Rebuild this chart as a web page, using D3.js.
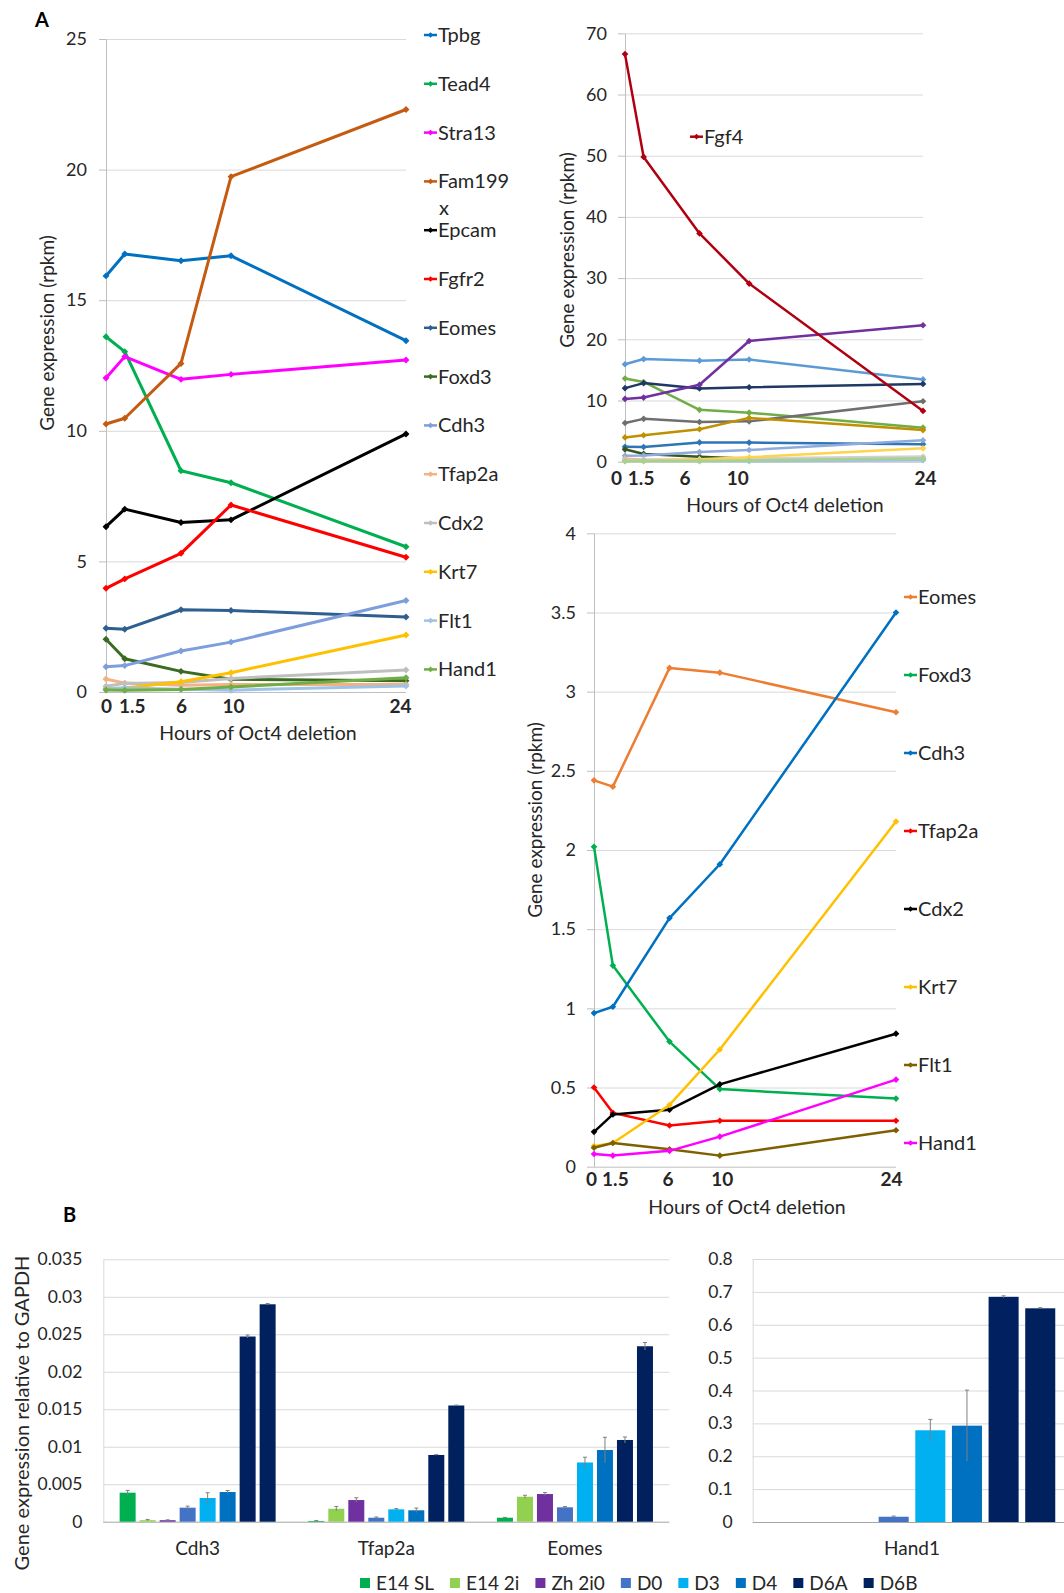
<!DOCTYPE html>
<html>
<head>
<meta charset="utf-8">
<script src="https://cdn.jsdelivr.net/npm/d3@7/dist/d3.min.js"></script>
<style>
  body { margin: 0; background: #ffffff; }
  svg { display: block; font-family: Lato, "Open Sans", sans-serif; }
</style>
</head>
<body>
<div id="figure"></div>
<script>
var svg_width = 1064;
var svg_height = 1593;

// Hours of Oct4 deletion
var hours = [0, 1.5, 6, 10, 24];
var hour_labels = ["0", "1.5", "6", "10", "24"];

// RNA-seq expression (rpkm) at each hour
var tpbg = [15.93, 16.77, 16.51, 16.70, 13.45];
var tead4 = [13.60, 13.03, 8.47, 8.01, 5.56];
var stra13 = [12.02, 12.84, 11.97, 12.16, 12.71];
var fam199x = [10.26, 10.48, 12.58, 19.73, 22.30];
var epcam = [6.33, 7.00, 6.49, 6.59, 9.88];
var fgfr2 = [3.97, 4.33, 5.31, 7.16, 5.16];
var eomes = [2.44, 2.40, 3.15, 3.12, 2.87];
var foxd3 = [2.02, 1.27, 0.79, 0.49, 0.43];
var cdh3 = [0.97, 1.01, 1.57, 1.91, 3.50];
var tfap2a = [0.50, 0.34, 0.26, 0.29, 0.29];
var cdx2 = [0.22, 0.33, 0.36, 0.52, 0.84];
var krt7 = [0.13, 0.15, 0.39, 0.74, 2.18];
var flt1 = [0.12, 0.15, 0.11, 0.07, 0.23];
var hand1 = [0.08, 0.07, 0.10, 0.19, 0.55];
var fgf4 = [66.6, 49.8, 37.3, 29.1, 8.3];

// Top left panel
var genes_a = ["Tpbg", "Tead4", "Stra13", "Fam199x", "Epcam", "Fgfr2", "Eomes", "Foxd3",
  "Cdh3", "Tfap2a", "Cdx2", "Krt7", "Flt1", "Hand1"];
var legend_a = ["Tpbg", "Tead4", "Stra13", "Fam199\nx", "Epcam", "Fgfr2", "Eomes", "Foxd3",
  "Cdh3", "Tfap2a", "Cdx2", "Krt7", "Flt1", "Hand1"];
var values_a = [tpbg, tead4, stra13, fam199x, epcam, fgfr2, eomes, foxd3,
  cdh3, tfap2a, cdx2, krt7, flt1, hand1];
var colors_a = ["#0070c0", "#00b050", "#ff00ff", "#c55a11", "#000000", "#ff0000", "#2e5f8f", "#3b6b21",
  "#7d9ddc", "#f4b183", "#bfbfbf", "#ffc000", "#9dc3e6", "#70ad47"];

// Top right panel (same genes plus Fgf4)
var genes_b = ["Tpbg", "Tead4", "Stra13", "Fam199x", "Epcam", "Fgfr2", "Eomes", "Foxd3",
  "Cdh3", "Tfap2a", "Cdx2", "Krt7", "Flt1", "Hand1", "Fgf4"];
var values_b = [tpbg, tead4, stra13, fam199x, epcam, fgfr2, eomes, foxd3,
  cdh3, tfap2a, cdx2, krt7, flt1, hand1, fgf4];
var colors_b = ["#5b9bd5", "#70ad47", "#203864", "#7030a0", "#6f6f6f", "#bf9000", "#2e75b6", "#375623",
  "#8faadc", "#f4b183", "#d0d0d0", "#ffd34d", "#9dc3e6", "#a9d18e", "#b00010"];

// Bottom right panel (low expressed genes)
var genes_c = ["Eomes", "Foxd3", "Cdh3", "Tfap2a", "Cdx2", "Krt7", "Flt1", "Hand1"];
var values_c = [eomes, foxd3, cdh3, tfap2a, cdx2, krt7, flt1, hand1];
var colors_c = ["#ed7d31", "#00b050", "#0070c0", "#ff0000", "#000000", "#ffc000", "#7f6000", "#ff00ff"];

// qPCR, expression relative to GAPDH
var qpcr_genes = ["Cdh3", "Tfap2a", "Eomes", "Hand1"];
var samples = ["E14 SL", "E14 2i", "Zh 2i0", "D0", "D3", "D4", "D6A", "D6B"];
var sample_colors = ["#00b050", "#92d050", "#7030a0", "#4472c4", "#00b0f0", "#0070c0", "#002060", "#00205e"];
var e14_sl = [0.00387, 0.0001, 0.00053, 0];
var e14_2i = [0.0002, 0.00173, 0.00333, 0];
var zh_2i0 = [0.0002, 0.00289, 0.00369, 0];
var d0 = [0.00187, 0.00053, 0.00192, 0.016];
var d3v = [0.00316, 0.00165, 0.0079, 0.279];
var d4 = [0.00396, 0.00152, 0.00956, 0.293];
var d6a = [0.0247, 0.0089, 0.0109, 0.685];
var d6b = [0.0290, 0.0155, 0.0234, 0.650];
var sample_values = [e14_sl, e14_2i, zh_2i0, d0, d3v, d4, d6a, d6b];
// error bars
var e14_sl_err = [0.0003, 0.00005, 0.00005, 0];
var e14_2i_err = [0.0001, 0.0003, 0.0002, 0];
var zh_2i0_err = [0.00005, 0.0003, 0.0002, 0];
var d0_err = [0.0002, 0.0001, 0.0001, 0.002];
var d3_err = [0.0007, 0.0001, 0.0007, 0.033];
var d4_err = [0.0002, 0.0003, 0.0017, 0.108];
var d6a_err = [0.0002, 0.00005, 0.0004, 0.003];
var d6b_err = [0.0001, 0.00005, 0.0005, 0.002];
var sample_errors = [e14_sl_err, e14_2i_err, zh_2i0_err, d0_err, d3_err, d4_err, d6a_err, d6b_err];

var text_color = "#262626";

var svg = d3.select("#figure")
  .append("svg")
  .attr("width", svg_width)
  .attr("height", svg_height);

// Panel letters
svg.append("text").attr("x", 35).attr("y", 27)
  .attr("font-size", 20).attr("font-weight", "bold").attr("fill", "#000")
  .text("A");
svg.append("text").attr("x", 63).attr("y", 1222)
  .attr("font-size", 20).attr("font-weight", "bold").attr("fill", "#000")
  .text("B");

// small marker, a square turned 45 degrees
var marker = d3.symbol().type(d3.symbolSquare);

// Draw one line chart panel
function drawLinePanel(p) {
  var g = svg.append("g");
  var x = d3.scaleLinear().domain([0, 24]).range([p.left, p.right]);
  var y = d3.scaleLinear().domain([0, p.ymax]).range([p.bottom, p.top]);
  var yticks = d3.range(0, Math.round(p.ymax / p.ystep) + 1).map(i => i * p.ystep);

  // Gridlines
  g.append("g")
    .attr("transform", `translate(${p.left},0)`)
    .call(d3.axisLeft(y).tickValues(yticks).tickSize(-(p.right - p.left)).tickSizeOuter(0).tickFormat(""))
    .call(a => a.select(".domain").remove())
    .call(a => a.selectAll(".tick line").attr("stroke", d => d === 0 ? "#bfbfbf" : "#d9d9d9"));

  // Y axis
  g.append("g")
    .attr("transform", `translate(${p.left},0)`)
    .call(d3.axisLeft(y).tickValues(yticks).tickSize(7).tickSizeOuter(0).tickPadding(p.labelPad)
      .tickFormat(d => +d.toFixed(2)))
    .attr("font-family", null)
    .attr("font-size", 18)
    .call(a => a.select(".domain").attr("stroke", "#bfbfbf"))
    .call(a => a.selectAll(".tick line").attr("stroke", "#bfbfbf"))
    .call(a => a.selectAll("text").attr("fill", text_color));

  // X axis labels (hand placed in the original, hence the nudges)
  g.append("g")
    .attr("transform", `translate(0,${p.bottom})`)
    .call(d3.axisBottom(x).tickValues(hours).tickSize(0).tickPadding(p.xPad)
      .tickFormat((d, i) => hour_labels[i]))
    .attr("font-family", null)
    .attr("font-size", 19)
    .attr("font-weight", "bold")
    .call(a => a.select(".domain").remove())
    .call(a => a.selectAll("text").attr("fill", text_color).attr("dx", (d, i) => p.nudge[i]));

  // Axis titles
  g.append("text")
    .attr("x", p.xTitle[0]).attr("y", p.xTitle[1])
    .attr("text-anchor", "middle").attr("dy", "0.35em")
    .attr("font-size", 19.5).attr("fill", text_color)
    .text("Hours of Oct4 deletion");
  g.append("text")
    .attr("transform", `translate(${p.yTitle[0]},${p.yTitle[1]}) rotate(-90)`)
    .attr("text-anchor", "middle").attr("dy", "0.35em")
    .attr("font-size", 19).attr("fill", text_color)
    .text("Gene expression (rpkm)");

  // Lines and markers
  var line = d3.line().x((d, i) => x(hours[i])).y(d => y(d));
  marker.size(p.markerSize);
  var marker_path = marker();
  p.values.forEach(function(vals, k) {
    var c = p.colors[k];
    g.append("path")
      .datum(vals)
      .attr("d", line)
      .attr("fill", "none")
      .attr("stroke", c)
      .attr("stroke-width", p.lineWidth)
      .attr("stroke-linejoin", "round");
    g.selectAll(null)
      .data(vals)
      .enter()
      .append("path")
      .attr("d", marker_path)
      .attr("transform", (d, i) => `translate(${x(hours[i])},${y(d)}) rotate(45)`)
      .attr("fill", c);
  });

  // Legend
  var legend_marker = d3.symbol().type(d3.symbolSquare).size(16)();
  p.legend.forEach(function(item) {
    var ly = item.y;
    g.append("line")
      .attr("x1", p.legendX).attr("x2", p.legendX + 13)
      .attr("y1", ly).attr("y2", ly)
      .attr("stroke", item.color).attr("stroke-width", 2.5);
    g.append("path")
      .attr("d", legend_marker)
      .attr("transform", `translate(${p.legendX + 6.5},${ly}) rotate(45)`)
      .attr("fill", item.color);
    var t = g.append("text")
      .attr("x", p.legendX + 14).attr("y", ly)
      .attr("font-size", 20).attr("fill", text_color);
    item.label.split("\n").forEach(function(part, j) {
      t.append("tspan")
        .attr("x", j === 0 ? p.legendX + 14 : p.legendX + 15)
        .attr("dy", j === 0 ? "0.35em" : "1.35em")
        .text(part);
    });
  });
}

// Panel A, top left
drawLinePanel({
  left: 106, right: 406, bottom: 692, top: 39,
  ymax: 25, ystep: 5, labelPad: 12, xPad: 8,
  nudge: [0, 7, 0, 2, -6],
  xTitle: [258, 733], yTitle: [47, 333],
  lineWidth: 3, markerSize: 24,
  values: values_a, colors: colors_a,
  legendX: 424,
  legend: legend_a.map((l, i) => ({label: l, color: colors_a[i], y: 35 + i * 48.8}))
});

// Panel A, top right (with Fgf4)
drawLinePanel({
  left: 625, right: 923, bottom: 461.7, top: 33.3,
  ymax: 70, ystep: 10, labelPad: 11, xPad: 10,
  nudge: [-9, -3, -15, -12, 2],
  xTitle: [785, 505], yTitle: [567, 250],
  lineWidth: 2.5, markerSize: 22,
  values: values_b, colors: colors_b,
  legendX: 690,
  legend: [{label: genes_b[14], color: colors_b[14], y: 136.7}]
});

// Panel A, bottom right (low expressed genes)
drawLinePanel({
  left: 594, right: 896, bottom: 1166.7, top: 533.3,
  ymax: 4, ystep: 0.5, labelPad: 11, xPad: 6,
  nudge: [-3, 2, -2, 2, -5],
  xTitle: [747, 1207], yTitle: [535, 820],
  lineWidth: 2.5, markerSize: 22,
  values: values_c, colors: colors_c,
  legendX: 904,
  legend: genes_c.map((l, i) => ({label: l, color: colors_c[i], y: 597 + i * 78}))
});

// Draw one grouped bar panel
function drawBarPanel(p) {
  var g = svg.append("g");
  var x0 = d3.scaleBand().domain(p.genes).range([p.left, p.right])
    .paddingInner(p.groupPadInner).paddingOuter(p.groupPadOuter);
  var x1 = d3.scaleBand().domain(samples).range([0, x0.bandwidth()])
    .paddingInner(p.barPad).paddingOuter(p.barPad / 2);
  var y = d3.scaleLinear().domain([0, p.ymax]).range([p.bottom, p.top]);
  var yticks = d3.range(0, Math.round(p.ymax / p.ystep) + 1).map(i => i * p.ystep);

  // Gridlines
  g.append("g")
    .attr("transform", `translate(${p.left},0)`)
    .call(d3.axisLeft(y).tickValues(yticks).tickSize(-(p.right - p.left)).tickSizeOuter(0).tickFormat(""))
    .call(a => a.select(".domain").attr("stroke", "#d9d9d9"))
    .call(a => a.selectAll(".tick line").attr("stroke", d => d === 0 ? "#a6a6a6" : "#d9d9d9"));

  // Y tick labels
  g.append("g")
    .attr("transform", `translate(${p.left},0)`)
    .call(d3.axisLeft(y).tickValues(yticks).tickSize(0).tickPadding(p.labelPad)
      .tickFormat(d => +d.toFixed(3)))
    .attr("font-family", null)
    .attr("font-size", 17.5)
    .call(a => a.select(".domain").remove())
    .call(a => a.selectAll("text").attr("fill", text_color));

  // Category labels
  g.append("g")
    .attr("transform", `translate(0,${p.bottom})`)
    .call(d3.axisBottom(x0).tickSize(0).tickPadding(20))
    .attr("font-family", null)
    .attr("font-size", 19)
    .call(a => a.select(".domain").remove())
    .call(a => a.selectAll("text").attr("fill", text_color));

  // Bars
  var rows = [];
  p.genes.forEach(function(gene) {
    var gi = qpcr_genes.indexOf(gene);
    samples.forEach(function(s, si) {
      rows.push({gene: gene, sample: s, value: sample_values[si][gi], err: sample_errors[si][gi], color: sample_colors[si]});
    });
  });

  g.selectAll(".bar")
    .data(rows)
    .enter()
    .append("rect")
    .attr("class", "bar")
    .attr("x", d => x0(d.gene) + x1(d.sample))
    .attr("width", x1.bandwidth())
    .attr("y", d => y(d.value))
    .attr("height", d => p.bottom - y(d.value))
    .attr("fill", d => d.color);

  // Error bars
  var eb = g.selectAll(".err")
    .data(rows.filter(d => d.err > 0))
    .enter()
    .append("g")
    .attr("class", "err")
    .attr("stroke", "#7f7f7f")
    .attr("stroke-width", 1);
  eb.append("line")
    .attr("x1", d => x0(d.gene) + x1(d.sample) + x1.bandwidth() / 2)
    .attr("x2", d => x0(d.gene) + x1(d.sample) + x1.bandwidth() / 2)
    .attr("y1", d => y(Math.max(0, d.value - d.err)))
    .attr("y2", d => y(d.value + d.err));
  eb.append("line")
    .attr("x1", d => x0(d.gene) + x1(d.sample) + x1.bandwidth() / 2 - 2)
    .attr("x2", d => x0(d.gene) + x1(d.sample) + x1.bandwidth() / 2 + 2)
    .attr("y1", d => y(d.value + d.err))
    .attr("y2", d => y(d.value + d.err));
}

// Panel B, left
drawBarPanel({
  genes: qpcr_genes.slice(0, 3),
  left: 103.3, right: 669.3, bottom: 1521.7, top: 1259.3,
  ymax: 0.035, ystep: 0.005, labelPad: 21,
  groupPadInner: 0.152, groupPadOuter: 0.076, barPad: 0.2
});

// Panel B, right
drawBarPanel({
  genes: qpcr_genes.slice(3),
  left: 752.7, right: 1071.3, bottom: 1522, top: 1259,
  ymax: 0.8, ystep: 0.1, labelPad: 20,
  groupPadInner: 0.08, groupPadOuter: 0.04, barPad: 0.18
});

// Panel B y title
svg.append("text")
  .attr("transform", "translate(22,1413) rotate(-90)")
  .attr("text-anchor", "middle").attr("dy", "0.35em")
  .attr("font-size", 20).attr("fill", text_color)
  .text("Gene expression relative to GAPDH");

// Panel B legend
var legend_b = svg.append("g");
var lx = 360;
samples.forEach(function(s, i) {
  legend_b.append("rect")
    .attr("x", lx).attr("y", 1578).attr("width", 10).attr("height", 10)
    .attr("fill", sample_colors[i]);
  var t = legend_b.append("text")
    .attr("x", lx + 16).attr("y", 1583).attr("dy", "0.35em")
    .attr("font-size", 19).attr("fill", text_color)
    .text(s);
  lx += 16 + t.node().getComputedTextLength() + 16;
});
</script>
</body>
</html>
